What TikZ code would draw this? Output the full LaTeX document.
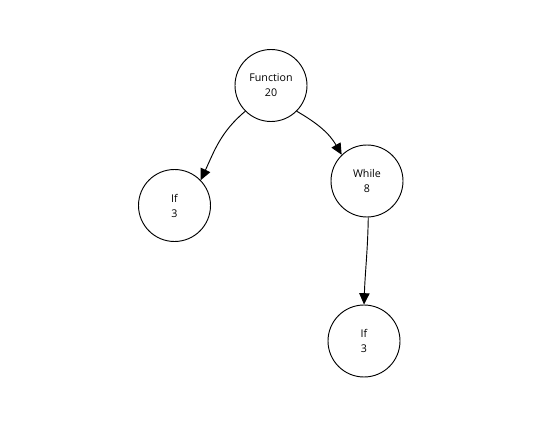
\documentclass[tikz,border=0pt]{standalone}
\usepackage{fontspec}
\setmainfont{Open Sans}
\usetikzlibrary{arrows.meta}

\tikzset{
	stmt/.style={draw, circle, line width=0.7pt, minimum size=54pt, inner sep=0pt, align=center, font=\fontsize{8}{11.25}\selectfont},
	flow/.style={line width=0.7pt, -{Triangle[length=8.5pt,width=7.8pt]}}
}

\begin{document}
\begin{tikzpicture}[x=0.75pt,y=0.75pt]
		\useasboundingbox (0,0) rectangle (549,422);
		\node[stmt] (func) at (271,336.5) {Function\\20};
		\node[stmt] (ifa) at (174.5,216.5) {If\\3};
		\node[stmt] (while) at (367,241) {While\\8};
		\node[stmt] (ifb) at (364,81) {If\\3};
		
		\draw[flow] (func.225) to[out=220,in=65] (ifa.44);
		\draw[flow] (func.315) to[out=-30,in=120] (while.134);
		\draw[flow] (while.-88) to[out=-91,in=88] (ifb.north);
	\end{tikzpicture}
\end{document}
